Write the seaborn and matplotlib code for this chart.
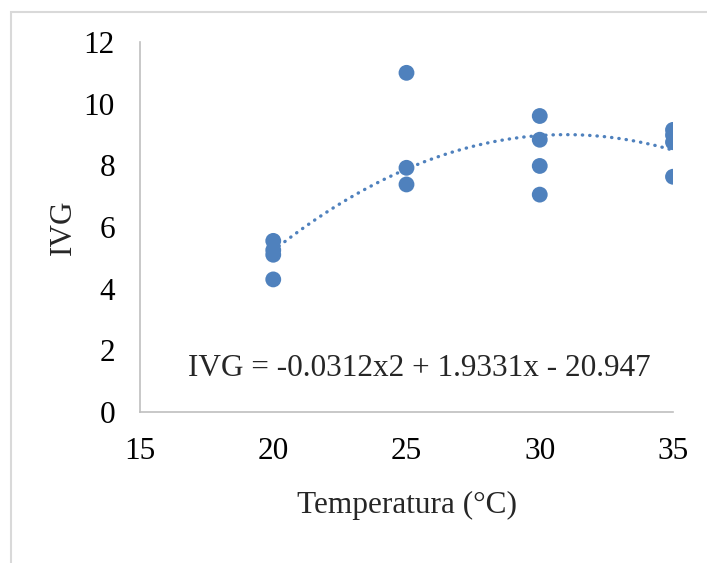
import numpy as np
import pandas as pd
import matplotlib
matplotlib.use("Agg")
import matplotlib.pyplot as plt
from matplotlib.patches import Rectangle
import seaborn as sns

# Data
temperatura = [20, 20, 20, 20, 25, 25, 25, 30, 30, 30, 30, 35, 35, 35, 35]
ivg = [5.55, 5.25, 5.1, 4.3, 11.0, 7.92, 7.38, 9.6, 8.83, 7.98, 7.05, 9.15, 8.98, 8.75, 7.63]
# Trendline coefficients (as printed on the chart): a*x^2 + b*x + c
trend_coef = [-0.0312, 1.9331, -20.947]
trend_range = [20, 35]
x_ticks = [15, 20, 25, 30, 35]
y_ticks = [0, 2, 4, 6, 8, 10, 12]
equation_text = "IVG = -0.0312x2 + 1.9331x - 20.947"

sns.set_theme(style="white")
plt.rcParams['font.family'] = ['Liberation Serif', 'DejaVu Serif']

color = "#4F81BD"
fs = 22.5
fig = plt.figure(figsize=(7.07, 5.63), dpi=100)
ax = fig.add_axes([140/707, 1-412/563, (673-140)/707, (412-42)/563])

df = pd.DataFrame({"Temperatura": temperatura, "IVG": ivg})
xs = np.linspace(trend_range[0], trend_range[1], 200)
trend = pd.DataFrame({"x": xs, "y": np.polyval(trend_coef, xs)})
sns.lineplot(data=trend, x="x", y="y", ax=ax, color=color, lw=2.4,
             linestyle=(0, (0.1, 2.1)), dash_capstyle="round", zorder=2)
sns.scatterplot(data=df, x="Temperatura", y="IVG", ax=ax, color=color,
                s=130, edgecolor="none", zorder=3)

ax.set_xlim(15, 35)
ax.set_ylim(0, 12)
ax.set_xticks(x_ticks)
ax.set_yticks(y_ticks)
ax.tick_params(axis="both", length=0, labelsize=fs, colors="black")
ax.tick_params(axis="y", pad=18)
ax.tick_params(axis="x", pad=18)
for s in ["top", "right"]:
    ax.spines[s].set_visible(False)
for s in ["left", "bottom"]:
    ax.spines[s].set_color("#BFBFBF")
    ax.spines[s].set_linewidth(1.2)
ax.grid(False)
ax.set_xlabel("Temperatura (°C)", fontsize=fs, labelpad=18)
ax.set_ylabel("IVG", fontsize=fs, labelpad=4)
ax.text(16.8, 1.4, equation_text, fontsize=fs, va="center", ha="left")

fig.add_artist(Rectangle((11/707, -0.1), 1.2, 1.1 - 12/563,
                         transform=fig.transFigure, fill=False,
                         edgecolor="#D9D9D9", lw=1.5))

fig.savefig("out.png", dpi=100)
